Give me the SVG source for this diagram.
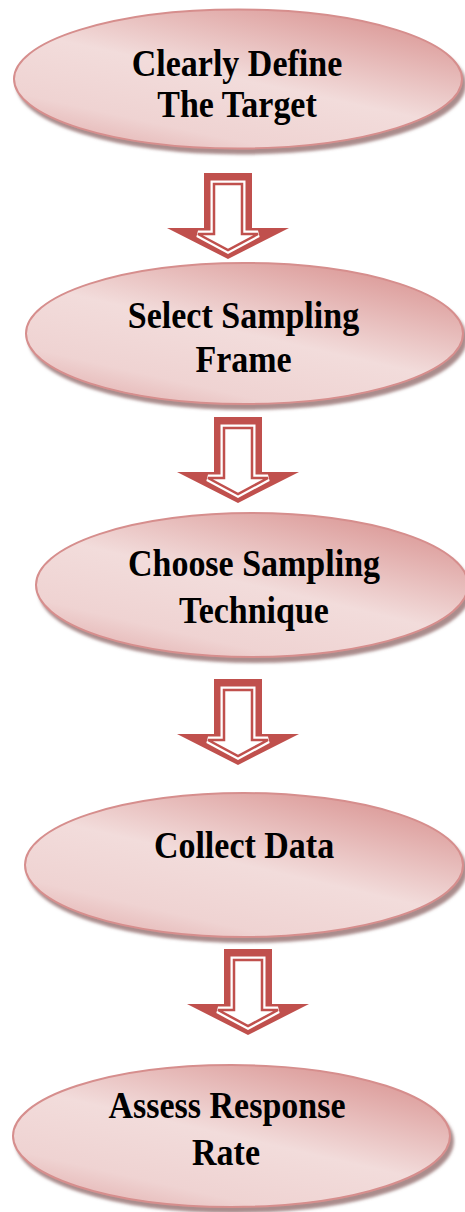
<svg xmlns="http://www.w3.org/2000/svg" width="465" height="1212" viewBox="0 0 465 1212">
  <style>
    .node { fill: url(#pinkFill); stroke: #D68E8D; stroke-width: 2; filter: url(#shade); }
    .label { font-family: "Liberation Serif", "Times New Roman", serif; font-weight: bold; font-size: 34px; fill: #000; text-anchor: middle; }
    .arrowOuter { fill: #C0504D; }
    .arrowHalo { fill: none; stroke: #FFFFFF; stroke-width: 7; stroke-linejoin: miter; }
    .arrowInner { fill: #FFFFFF; stroke: #C0504D; stroke-width: 2.5; stroke-linejoin: miter; }
  </style>
  <defs>
    <linearGradient id="pinkFill" x1="0.85" y1="0" x2="0.15" y2="1">
      <stop offset="0" stop-color="#D99391"/>
      <stop offset="0.5" stop-color="#F2DCDB"/>
      <stop offset="0.8" stop-color="#EFD3D2"/>
      <stop offset="1" stop-color="#E3B0AF"/>
    </linearGradient>
    <filter id="shade" x="-5%" y="-10%" width="115%" height="130%">
      <feGaussianBlur in="SourceAlpha" stdDeviation="1.5" result="blur"/>
      <feOffset in="blur" dx="3" dy="5" result="off"/>
      <feFlood flood-color="#8E6666" flood-opacity="0.75"/>
      <feComposite in2="off" operator="in" result="shadow"/>
      <feMerge>
        <feMergeNode in="shadow"/>
        <feMergeNode in="SourceGraphic"/>
      </feMerge>
    </filter>
    <g id="downArrow">
      <path class="arrowOuter" d="M-24,0 H24 V55 H61 L0,86 L-61,55 H-24 Z"/>
      <path class="arrowHalo" d="M-14,11 H14 V61 H30 L0,77 L-30,61 H-14 Z"/>
      <path class="arrowInner" d="M-14,11 H14 V61 H30 L0,77 L-30,61 H-14 Z"/>
    </g>
  </defs>

  <rect width="465" height="1212" fill="#FFFFFF"/>

  <!-- connectors: hollow block arrows between steps -->
  <g id="connectors">
    <use href="#downArrow" x="228" y="173"/>
    <use href="#downArrow" x="238" y="417"/>
    <use href="#downArrow" x="238" y="679"/>
    <use href="#downArrow" x="248" y="949"/>
  </g>

  <!-- labels are set on their baselines and stretched slightly taller -->
  <g id="step-define-target">
    <ellipse class="node" cx="238" cy="79" rx="224" ry="69.5"/>
    <text class="label" transform="translate(237,76) scale(1,1.12)">Clearly Define</text>
    <text class="label" transform="translate(237,117) scale(1,1.12)">The Target</text>
  </g>

  <g id="step-sampling-frame">
    <ellipse class="node" cx="244.5" cy="333.5" rx="218.5" ry="70.5"/>
    <text class="label" transform="translate(243.5,328) scale(1,1.12)">Select Sampling</text>
    <text class="label" transform="translate(243.5,372) scale(1,1.12)">Frame</text>
  </g>

  <g id="step-sampling-technique">
    <ellipse class="node" cx="252" cy="585" rx="216" ry="72"/>
    <text class="label" transform="translate(254,576) scale(1,1.12)">Choose Sampling</text>
    <text class="label" transform="translate(254,623) scale(1,1.12)">Technique</text>
  </g>

  <g id="step-collect-data">
    <ellipse class="node" cx="244" cy="865" rx="219" ry="72"/>
    <text class="label" transform="translate(244,858) scale(1,1.12)">Collect Data</text>
  </g>

  <g id="step-response-rate">
    <ellipse class="node" cx="231.5" cy="1136" rx="218.5" ry="71"/>
    <text class="label" transform="translate(227,1118) scale(1,1.12)">Assess Response</text>
    <text class="label" transform="translate(226,1165) scale(1,1.12)">Rate</text>
  </g>
</svg>
